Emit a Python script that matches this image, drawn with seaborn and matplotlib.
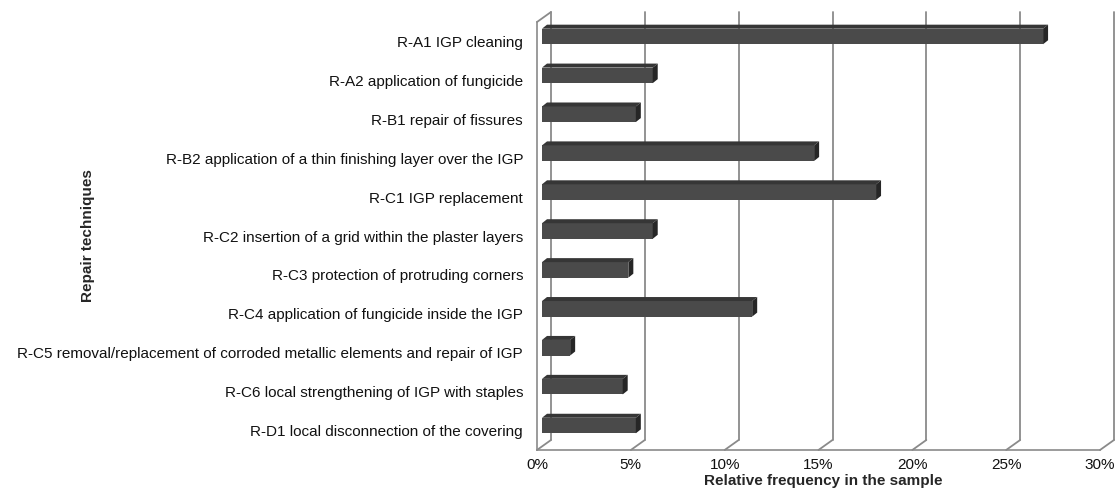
import matplotlib
matplotlib.use("Agg")
import matplotlib.pyplot as plt
import matplotlib.ticker as ticker
from matplotlib.lines import Line2D
from matplotlib.patches import Polygon
from matplotlib.transforms import IdentityTransform, ScaledTranslation
import seaborn as sns

techniques = [
    "R-A1 IGP cleaning",
    "R-A2 application of fungicide",
    "R-B1 repair of fissures",
    "R-B2 application of a thin finishing layer over the IGP",
    "R-C1 IGP replacement",
    "R-C2 insertion of a grid within the plaster layers",
    "R-C3 protection of protruding corners",
    "R-C4 application of fungicide inside the IGP",
    "R-C5 removal/replacement of corroded metallic elements and repair of IGP",
    "R-C6 local strengthening of IGP with staples",
    "R-D1 local disconnection of the covering",
]
frequency = [26.7, 5.9, 5.0, 14.5, 17.8, 5.9, 4.6, 11.2, 1.5, 4.3, 5.0]
x_ticks = [0, 5, 10, 15, 20, 25, 30]

sns.set_style("white")
plt.rcParams['font.family'] = ['Liberation Sans', 'DejaVu Sans']

W, H = 1120, 492
GRID = '#8a8a8a'
WALL_DX, WALL_DY = 14, 10    # depth of the back wall, pixels
BAR_DX, BAR_DY = 5, 4        # depth of one bar, pixels

fig = plt.figure(figsize=(W / 100, H / 100), dpi=100)
ax = fig.add_axes([537 / W, 42 / H, 563 / W, 428 / H])
ax.set_facecolor('none')

sns.barplot(x=frequency, y=techniques, orient='h', color='#4a4a4a',
            saturation=1, width=0.40, linewidth=0, ax=ax)

ax.set_xlim(0, 30)
ax.set_ylim(len(techniques) - 0.5, -0.5)
ax.set_xticks(x_ticks)
ax.xaxis.set_major_formatter(ticker.FuncFormatter(lambda v, p: f"{v:.0f}%"))
ax.set_yticks(range(len(techniques)))
ax.set_yticks([i - 0.5 for i in range(len(techniques) + 1)], minor=True)

ax.tick_params(axis='x', length=4, width=1, color=GRID, labelsize=11, pad=2)
ax.tick_params(axis='y', which='major', length=0, labelsize=11, pad=10)
ax.tick_params(axis='y', which='minor', length=4, width=1, color=GRID)
for lab in ax.get_xticklabels() + ax.get_yticklabels():
    lab.set_color('#111111')

for s in ['top', 'right']:
    ax.spines[s].set_visible(False)
for s in ['left', 'bottom']:
    ax.spines[s].set_color(GRID)
    ax.spines[s].set_linewidth(1.2)

ax.set_xlabel("Relative frequency in the sample", fontsize=11, fontweight='bold')
ax.xaxis.set_label_coords(0.508, -0.057)
ax.set_ylabel("Repair techniques", fontsize=11, fontweight='bold')
ax.yaxis.set_label_coords(-0.785, 0.5)

# bars sit at mid depth of the box
shift = ScaledTranslation(5 / 100, 5 / 100, fig.dpi_scale_trans)
bars = list(ax.patches)
for bar in bars:
    bar.set_transform(ax.transData + shift)

# back wall: gridlines and floor slants
ident = IdentityTransform()
ybot, ytop = len(techniques) - 0.5, -0.5
for xv in x_ticks:
    fx, fy = ax.transData.transform((xv, ybot))
    tx, ty = ax.transData.transform((xv, ytop))
    ax.add_line(Line2D([fx + WALL_DX, tx + WALL_DX], [fy + WALL_DY, ty + WALL_DY],
                       transform=ident, color=GRID, lw=1.3, zorder=0.5, clip_on=False))
    ax.add_line(Line2D([fx, fx + WALL_DX], [fy, fy + WALL_DY],
                       transform=ident, color=GRID, lw=1.3, zorder=0.5, clip_on=False))
tx, ty = ax.transData.transform((0, ytop))
ax.add_line(Line2D([tx, tx + WALL_DX], [ty, ty + WALL_DY],
                   transform=ident, color=GRID, lw=1.3, zorder=0.5, clip_on=False))

# 3d faces of the bars
for bar in bars:
    bb = bar.get_window_extent()
    x0, y0, x1, y1 = bb.x0, bb.y0, bb.x1, bb.y1
    top = [(x0, y1), (x1, y1), (x1 + BAR_DX, y1 + BAR_DY), (x0 + BAR_DX, y1 + BAR_DY)]
    side = [(x1, y0), (x1 + BAR_DX, y0 + BAR_DY), (x1 + BAR_DX, y1 + BAR_DY), (x1, y1)]
    ax.add_patch(Polygon(top, closed=True, transform=ident, facecolor='#363636',
                         edgecolor='none', zorder=1.2, clip_on=False))
    ax.add_patch(Polygon(side, closed=True, transform=ident, facecolor='#262626',
                         edgecolor='none', zorder=1.2, clip_on=False))

fig.savefig("out.png", dpi=100)
